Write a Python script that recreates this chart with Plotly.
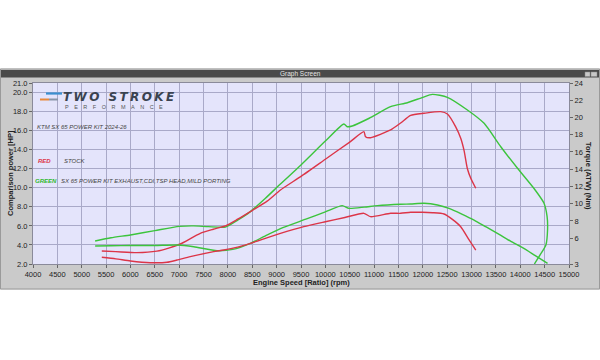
import plotly.graph_objects as go

# ---------------- data ----------------
kit_power_rpm = [5275, 5600, 6000, 6500, 7000, 7300, 7600, 7950, 8200, 8461, 8770, 9078, 9500,
                 10000, 10380, 10449, 10552, 10900, 11339, 11682, 12000, 12196, 12504, 12915,
                 13258, 13600, 13943, 14286, 14485, 14550, 14560, 14526, 14400, 14290]
kit_power_hp = [4.41, 4.75, 5.05, 5.5, 5.95, 6.0, 5.92, 5.88, 6.6, 7.5, 8.9, 10.4, 12.4,
                14.9, 16.7, 16.41, 16.49, 17.3, 18.51, 18.93, 19.5, 19.81, 19.5, 18.17,
                16.77, 14.31, 12.05, 9.9, 8.4, 7.0, 5.6, 4.0, 2.9, 2.0]

stock_power_rpm = [5412, 5700, 6132, 6543, 6800, 7022, 7433, 7700, 7950, 8200, 8461, 8805, 9078,
                   9500, 10000, 10500, 10791, 10825, 10928, 11339, 11545, 11750, 12024, 12367,
                   12504, 12675, 12778, 12847, 12915, 12984, 13087]
stock_power_hp = [3.36, 3.3, 3.19, 3.35, 3.7, 4.1, 5.22, 5.65, 6.0, 6.7, 7.5, 8.6, 9.77,
                  11.2, 13.0, 14.8, 15.89, 15.36, 15.26, 16.07, 16.8, 17.6, 17.82, 17.99,
                  17.75, 16.4, 15.2, 13.9, 12.0, 11.0, 9.95]

kit_torque_rpm = [5275, 5600, 6000, 6500, 6954, 7300, 7776, 8100, 8461, 8735, 9078, 9600, 10000,
                  10347, 10483, 10800, 11066, 11545, 11750, 12024, 12300, 12538, 12800, 13052,
                  13300, 13566, 13800, 14046, 14300, 14560]
kit_torque_nm = [5.09, 5.12, 5.15, 5.15, 5.2, 5.0, 4.54, 4.7, 5.4, 6.17, 7.1, 8.2, 9.05,
                 9.77, 9.46, 9.6, 9.77, 9.93, 9.96, 10.04, 9.85, 9.46, 8.8, 8.1,
                 7.3, 6.44, 5.65, 4.89, 4.0, 3.08]

stock_torque_rpm = [5412, 5700, 6000, 6405, 6750, 6954, 7228, 7707, 7913, 8200, 8461, 9078, 9557,
                    10000, 10400, 10791, 10928, 11339, 11545, 11750, 11990, 12200, 12435, 12600,
                    12778, 12950, 13087]
stock_torque_nm = [3.78, 3.6, 3.35, 3.15, 3.2, 3.46, 3.85, 4.43, 4.62, 4.95, 5.4, 6.56, 7.33,
                   7.9, 8.4, 8.88, 8.49, 8.88, 8.88, 9.0, 9.0, 8.95, 8.8, 8.2,
                   7.33, 5.8, 4.62]

rpm_ticks = [4000, 4500, 5000, 5500, 6000, 6500, 7000, 7500, 8000, 8500, 9000, 9500, 10000,
             10500, 11000, 11500, 12000, 12500, 13000, 13500, 14000, 14500, 15000]
hp_ticks = [2, 4, 6, 8, 10, 12, 14, 16, 18, 20, 21]
hp_tick_labels = ["2.0", "4.0", "6.0", "8.0", "10.0", "12.0", "14.0", "16.0", "18.0", "20.0", "21.0"]
nm_ticks = [3, 6, 8, 10, 12, 14, 16, 18, 20, 22, 24]

# ---------------- styling ----------------
RED = "#dc3548"
GREEN = "#3cc43c"
FONT = "Liberation Sans"
W, H = 600, 360
L, R, T, B = 33, 31, 83, 96
PW, PH = W - L - R, H - T - B


def px(x):
    return (x - L) / PW


def py(y):
    return (H - B - y) / PH


fig = go.Figure()

def add(xs, ys, color, axis):
    fig.add_trace(go.Scatter(x=xs, y=ys, mode="lines", yaxis=axis,
                             line=dict(color=color, width=1.4, shape="spline", smoothing=0.6),
                             hoverinfo="skip", showlegend=False))

add(kit_power_rpm, kit_power_hp, GREEN, "y")
add(stock_power_rpm, stock_power_hp, RED, "y")
add(kit_torque_rpm, kit_torque_nm, GREEN, "y2")
add(stock_torque_rpm, stock_torque_nm, RED, "y2")

tickfont = dict(family=FONT, size=7.5, color="#222")

fig.update_layout(
    width=W, height=H, autosize=False,
    margin=dict(l=L, r=R, t=T, b=B, pad=0),
    paper_bgcolor="#cacaca",
    plot_bgcolor="#e4e4fb",
    showlegend=False,
    xaxis=dict(range=[4000, 15000], tickvals=rpm_ticks, ticktext=[str(v) for v in rpm_ticks],
               showgrid=True, gridcolor="#a9a9c8", gridwidth=1, zeroline=False,
               ticks="outside", ticklen=3, tickcolor="#666", tickfont=tickfont,
               showline=True, linecolor="#8a8a9a", mirror=True, fixedrange=True),
    yaxis=dict(range=[2, 21], tickvals=hp_ticks, ticktext=hp_tick_labels,
               showgrid=True, gridcolor="#a9a9c8", gridwidth=1, zeroline=False,
               ticks="outside", ticklen=3, tickcolor="#666", tickfont=tickfont,
               showline=True, linecolor="#8a8a9a", mirror=True, fixedrange=True),
    yaxis2=dict(range=[3, 24], tickvals=nm_ticks, ticktext=[str(v) for v in nm_ticks],
                overlaying="y", side="right", showgrid=False, zeroline=False,
                ticks="outside", ticklen=3, tickcolor="#666", tickfont=tickfont, fixedrange=True),
)

shapes = []
# white page above and below the window
shapes.append(dict(type="rect", xref="paper", yref="paper", x0=px(-5), x1=px(605), y0=py(68.5), y1=py(-5),
                   fillcolor="white", line_width=0, layer="above"))
shapes.append(dict(type="rect", xref="paper", yref="paper", x0=px(-5), x1=px(605), y0=py(365), y1=py(289.5),
                   fillcolor="white", line_width=0, layer="above"))
# window outline
shapes.append(dict(type="rect", xref="paper", yref="paper", x0=px(0.5), x1=px(599.5), y0=py(289), y1=py(69),
                   fillcolor="rgba(0,0,0,0)", line=dict(color="#9a9a9a", width=1)))
# title bar
shapes.append(dict(type="rect", xref="paper", yref="paper", x0=px(1), x1=px(599), y0=py(77.5), y1=py(70),
                   fillcolor="#4a4a4a", line_width=0))
# window buttons
shapes.append(dict(type="rect", xref="paper", yref="paper", x0=px(585), x1=px(590), y0=py(76.5), y1=py(72),
                   fillcolor="#c8c8c8", line=dict(color="#888", width=0.5)))
shapes.append(dict(type="rect", xref="paper", yref="paper", x0=px(591), x1=px(597), y0=py(76.5), y1=py(72),
                   fillcolor="#c8c8c8", line=dict(color="#888", width=0.5)))
# logo stripes
shapes.append(dict(type="line", xref="paper", yref="paper", x0=px(46), x1=px(62), y0=py(93.5), y1=py(93.5),
                   line=dict(color="#3a8fd0", width=2.2)))
shapes.append(dict(type="line", xref="paper", yref="paper", x0=px(40), x1=px(49), y0=py(99.5), y1=py(99.5),
                   line=dict(color="#e8893a", width=2)))
shapes.append(dict(type="line", xref="paper", yref="paper", x0=px(49), x1=px(58), y0=py(99.5), y1=py(99.5),
                   line=dict(color="#8a96a8", width=2)))
fig.update_layout(shapes=shapes)

ann = []

def text(x, y, s, size=7, color="#333", xanchor="left", yanchor="middle", angle=0, family=FONT,
         weight="normal", style="normal"):
    ann.append(dict(x=px(x), y=py(y), xref="paper", yref="paper", text=s, showarrow=False,
                    xanchor=xanchor, yanchor=yanchor, textangle=angle,
                    font=dict(family=family, size=size, color=color, weight=weight, style=style)))

text(300, 74, "Graph Screen", size=6.5, color="#e6e6e6", xanchor="center")
text(301, 282, "Engine Speed [Ratio] (rpm)", size=7.5, color="#222", xanchor="center", weight="bold")
text(10, 173, "Comparison power [HP]", size=7.5, color="#222", xanchor="center", angle=-90, weight="bold")
text(589, 176, "Torque (ATW) (Nm)", size=7.5, color="#222", xanchor="center", angle=90, weight="bold")

thin = "\u2009"
text(61, 96.5, thin.join("TWO STROKE"), size=12, color="#3a4350", family="DejaVu Sans",
     weight="bold", style="italic")
text(63, 107, "\u2002\u2002".join("PERFORMANCE"), size=5.5, color="#555")

text(35, 127, "KTM SX 65 POWER KIT 2024-26", size=6, color="#444", style="italic")
text(36, 161, "RED", size=6, color=RED, style="italic", weight="bold")
text(62, 160.5, "STOCK", size=6, color="#444", style="italic")
text(33, 181, "GREEN", size=6, color="#2fb82f", style="italic", weight="bold")
text(59, 181, "SX 65 POWER KIT EXHAUST,CDI,TSP HEAD,MILD PORTING", size=6, color="#444", style="italic")

fig.update_layout(annotations=ann)
fig.write_html("out.html", config={"displayModeBar": False},
               post_script="document.documentElement.style.margin='0';document.body.style.margin='0';"
                           "document.body.style.overflow='hidden';document.documentElement.style.overflow='hidden';")
